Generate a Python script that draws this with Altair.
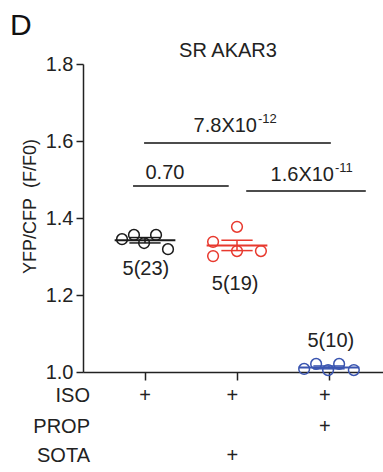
import altair as alt
import pandas as pd

# ---- data ----
groups = [0, 1, 2]
group_colors = ["#1a1a1a", "#e8392e", "#3a55b0"]
vals_iso = [1.345, 1.356, 1.335, 1.356, 1.319]
vals_sota = [1.338, 1.301, 1.377, 1.314, 1.314]
vals_prop = [1.008, 1.021, 1.005, 1.021, 1.005]
jitter_iso = [-0.25, -0.12, -0.01, 0.12, 0.25]
jitter_sota = [-0.26, -0.26, 0.0, 0.0, 0.26]
jitter_prop = [-0.27, -0.14, -0.01, 0.11, 0.27]
n_labels = ["5(23)", "5(19)", "5(10)"]
n_label_x = [0.01, 0.98, 2.02]
n_label_y = [1.252, 1.213, 1.065]

sig_x1 = [-0.01, -0.13, 1.10]
sig_x2 = [2.02, 0.91, 2.40]
sig_y = [1.595, 1.483, 1.470]
sig_main = ["7.8X10", "0.70", "1.6X10"]
sig_sup = ["-12", "", "-11"]
sig_text_x = [1.217, 0.217, 2.054]
sig_text_y = [1.623, 1.501, 1.496]
sig_align = ["right", "center", "right"]

row_names = ["ISO", "PROP", "SOTA"]
row_y = [0.938, 0.857, 0.782]
row_flags = [[1, 1, 1], [0, 0, 1], [0, 1, 0]]
plus_x = [0.0, 0.95, 1.955]

title_text = "SR AKAR3"
y_title = "YFP/CFP\u00a0\u00a0(F/F0)"

FONT = "Liberation Sans"
FS = 20

pts = []
for g, vals, jit in [(0, vals_iso, jitter_iso), (1, vals_sota, jitter_sota), (2, vals_prop, jitter_prop)]:
    for v, j in zip(vals, jit):
        pts.append({"g": g, "xpos": g + j, "y": v})
df = pd.DataFrame(pts)

xs = alt.Scale(domain=[-0.674, 2.587], nice=False, zero=False)
ys = alt.Scale(domain=[1.0, 1.8], nice=False, zero=False)
col = alt.Color("g:N", scale=alt.Scale(domain=groups, range=group_colors), legend=None)

points = alt.Chart(df).mark_point(shape="circle", filled=False, size=115, strokeWidth=1.5, opacity=1).encode(
    x=alt.X("xpos:Q", scale=xs, title=None,
            axis=alt.Axis(values=[0, 1, 2], labels=False, grid=False, title=None, tickSize=8,
                          domainColor="#222", tickColor="#222", domainWidth=1.5, tickWidth=1.5)),
    y=alt.Y("y:Q", scale=ys, title=None,
            axis=alt.Axis(values=[1.0, 1.2, 1.4, 1.6, 1.8], format=".1f", grid=False,
                          title=None, tickSize=7, labelFontSize=FS, labelFont=FONT,
                          labelColor="#222", labelPadding=3,
                          domainColor="#222", tickColor="#222", domainWidth=1.5, tickWidth=1.5)),
    color=col,
)

stats = alt.Chart(df).transform_aggregate(
    m="mean(y)", s="stderr(y)", groupby=["g"]
).transform_calculate(
    lo="datum.m - datum.s", hi="datum.m + datum.s",
    mx1="datum.g - 0.33", mx2="datum.g + 0.33",
    cx1="datum.g - 0.17", cx2="datum.g + 0.17",
)

mean_rule = stats.mark_rule(strokeWidth=2).encode(
    x=alt.X("mx1:Q", scale=xs, title=None), x2="mx2:Q",
    y=alt.Y("m:Q", scale=ys, title=None), color=col)
cap_lo = stats.mark_rule(strokeWidth=1.5).encode(
    x=alt.X("cx1:Q", scale=xs, title=None), x2="cx2:Q",
    y=alt.Y("lo:Q", scale=ys, title=None), color=col)
cap_hi = stats.mark_rule(strokeWidth=1.5).encode(
    x=alt.X("cx1:Q", scale=xs, title=None), x2="cx2:Q",
    y=alt.Y("hi:Q", scale=ys, title=None), color=col)
vert = stats.mark_rule(strokeWidth=1.5).encode(
    x=alt.X("g:Q", scale=xs, title=None),
    y=alt.Y("lo:Q", scale=ys, title=None), y2="hi:Q", color=col)

nlab_df = pd.DataFrame({"g": groups, "t": n_labels, "x": n_label_x, "y": n_label_y})
nlab = alt.Chart(nlab_df).mark_text(font=FONT, fontSize=FS, color="#222", align="center", baseline="alphabetic").encode(
    x=alt.X("x:Q", scale=xs, title=None), y=alt.Y("y:Q", scale=ys, title=None), text="t:N")

sig_df = pd.DataFrame({"x1": sig_x1, "x2": sig_x2, "y": sig_y, "main": sig_main, "sup": sig_sup,
                       "tx": sig_text_x, "ty": sig_text_y, "al": sig_align})
sig_lines = alt.Chart(sig_df).mark_rule(strokeWidth=1.5, color="#111").encode(
    x=alt.X("x1:Q", scale=xs, title=None), x2="x2:Q", y=alt.Y("y:Q", scale=ys, title=None))
sig_main_r = alt.Chart(sig_df).transform_filter("datum.al == 'right'").mark_text(
    font=FONT, fontSize=FS, color="#222", align="right", baseline="alphabetic").encode(
    x=alt.X("tx:Q", scale=xs, title=None), y=alt.Y("ty:Q", scale=ys, title=None), text="main:N")
sig_main_c = alt.Chart(sig_df).transform_filter("datum.al == 'center'").mark_text(
    font=FONT, fontSize=FS, color="#222", align="center", baseline="alphabetic").encode(
    x=alt.X("tx:Q", scale=xs, title=None), y=alt.Y("ty:Q", scale=ys, title=None), text="main:N")
sig_sup_t = alt.Chart(sig_df).transform_filter("datum.sup != ''").mark_text(
    font=FONT, fontSize=13, color="#222", align="left", baseline="alphabetic", dx=1, dy=-9).encode(
    x=alt.X("tx:Q", scale=xs, title=None), y=alt.Y("ty:Q", scale=ys, title=None), text="sup:N")

row_df = pd.DataFrame({"name": row_names, "y": row_y, "x": [-0.598] * 3})
rows = alt.Chart(row_df).mark_text(font=FONT, fontSize=FS, color="#222", align="right", baseline="middle").encode(
    x=alt.X("x:Q", scale=xs, title=None), y=alt.Y("y:Q", scale=ys, title=None), text="name:N")

plus_rows = []
for name, yy, flags in zip(row_names, row_y, row_flags):
    for px, f in zip(plus_x, flags):
        if f:
            plus_rows.append({"x": px, "y": yy, "t": "+"})
plus_df = pd.DataFrame(plus_rows)
plus = alt.Chart(plus_df).mark_text(font=FONT, fontSize=FS, color="#222", align="center", baseline="middle").encode(
    x=alt.X("x:Q", scale=xs, title=None), y=alt.Y("y:Q", scale=ys, title=None), text="t:N")

panel_df = pd.DataFrame({"x": [-1.467], "y": [1.875], "t": ["D"]})
panel = alt.Chart(panel_df).mark_text(font=FONT, fontSize=30, color="#111", align="left", baseline="alphabetic").encode(
    x=alt.X("x:Q", scale=xs, title=None), y=alt.Y("y:Q", scale=ys, title=None), text="t:N")

title_df = pd.DataFrame({"x": [0.902], "y": [1.818], "t": [title_text]})
title = alt.Chart(title_df).mark_text(font=FONT, fontSize=20, color="#222", align="center", baseline="alphabetic").encode(
    x=alt.X("x:Q", scale=xs, title=None), y=alt.Y("y:Q", scale=ys, title=None), text="t:N")

ytitle_df = pd.DataFrame({"x": [-1.24], "y": [1.43], "t": [y_title]})
ytitle = alt.Chart(ytitle_df).mark_text(font=FONT, fontSize=18, color="#222", align="center", baseline="middle",
                                        angle=270).encode(
    x=alt.X("x:Q", scale=xs, title=None), y=alt.Y("y:Q", scale=ys, title=None), text="t:N")

chart = alt.layer(
    points, mean_rule, cap_lo, cap_hi, vert, nlab, sig_lines, sig_main_r, sig_main_c, sig_sup_t,
    rows, plus, panel, title, ytitle
).properties(
    width=300, height=308,
    padding={"left": 83, "top": 64, "right": 0, "bottom": 100},
    autosize=alt.AutoSizeParams(type="none"),
).configure(background="white").configure_view(stroke=None)

chart.save("out.html", embed_options={"renderer": "svg", "actions": False})
